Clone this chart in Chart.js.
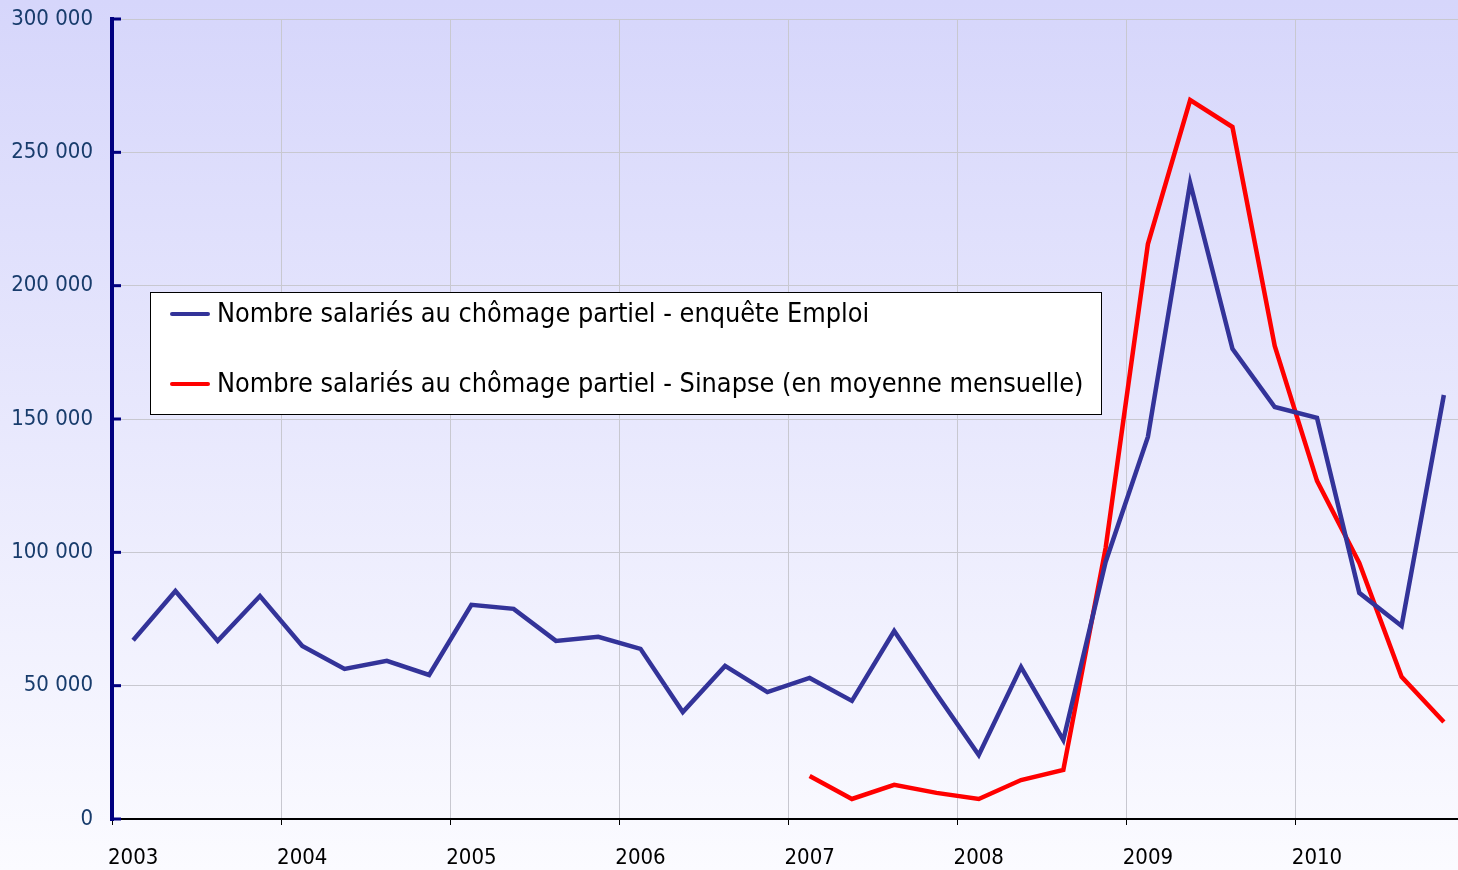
<!DOCTYPE html>
<html>
<head>
<meta charset="utf-8">
<script src="https://cdn.jsdelivr.net/npm/chart.js@4"></script>
<style>
  html, body { margin: 0; padding: 0; background: #fff; overflow: hidden; }
  #wrap { width: 1458px; height: 870px; overflow: hidden; }
  #inner { width: 1465px; height: 870px; }
</style>
</head>
<body>
<div id="wrap"><div id="inner"><canvas id="chomage"></canvas></div></div>
<script>
// quarters 2003 T1 .. 2010 T4
const years = ['2003', '2004', '2005', '2006', '2007', '2008', '2009', '2010']
const quarters = years.flatMap(y => [y, y + 'T2', y + 'T3', y + 'T4'])

const enqueteEmploi = [
  67000, 85500, 66800, 83600,
  64900, 56300, 59300, 54000,
  80300, 78800, 66800, 68300,
  63800, 40100, 57400, 47600,
  52900, 44300, 70500, 46900,
  24000, 57000, 29600, 96400,
  143300, 238500, 176300, 154500,
  150400, 84800, 72400, 159000
]

const sinapse = [
  null, null, null, null,
  null, null, null, null,
  null, null, null, null,
  null, null, null, null,
  16100, 7500, 12800, 9800,
  7500, 14600, 18400, 101600,
  215600, 269600, 259500, 177400,
  126800, 96000, 53300, 36400
]

const labelEmploi = 'Nombre salariés au chômage partiel - enquête Emploi'
const labelSinapse = 'Nombre salariés au chômage partiel - Sinapse (en moyenne mensuelle)'

const FONT = '"DejaVu Sans Condensed", "Liberation Sans Narrow", "Liberation Sans", sans-serif'

const background = {
  id: 'background',
  beforeDraw(chart) {
    const ctx = chart.ctx
    const g = ctx.createLinearGradient(0, 0, 0, chart.height)
    g.addColorStop(0, '#d6d6fb')
    g.addColorStop(1, '#fbfbff')
    ctx.save()
    ctx.fillStyle = g
    ctx.fillRect(0, 0, chart.width, chart.height)
    ctx.restore()
  }
}

// thick navy y axis with inward ticks
const yAxisLine = {
  id: 'yAxisLine',
  afterDatasetsDraw(chart) {
    const ctx = chart.ctx
    const y = chart.scales.y
    const x0 = chart.chartArea.left
    ctx.save()
    ctx.strokeStyle = '#000080'
    ctx.lineWidth = 4
    ctx.beginPath()
    ctx.moveTo(x0, y.top - 2)
    ctx.lineTo(x0, y.bottom + 2)
    ctx.stroke()
    ctx.lineWidth = 3
    y.ticks.forEach(t => {
      const py = y.getPixelForValue(t.value)
      ctx.beginPath()
      ctx.moveTo(x0, py)
      ctx.lineTo(x0 + 9, py)
      ctx.stroke()
    })
    ctx.restore()
  }
}

const boxLegend = {
  id: 'boxLegend',
  afterDraw(chart) {
    const ctx = chart.ctx
    ctx.save()
    ctx.fillStyle = '#ffffff'
    ctx.fillRect(150.5, 292.5, 951, 122)
    ctx.strokeStyle = '#000000'
    ctx.lineWidth = 1
    ctx.strokeRect(150.5, 292.5, 951, 122)
    const rows = [314, 384]
    chart.data.datasets.forEach((ds, i) => {
      ctx.strokeStyle = ds.borderColor
      ctx.lineWidth = 4
      ctx.lineCap = 'round'
      ctx.beginPath()
      ctx.moveTo(172, rows[i])
      ctx.lineTo(208, rows[i])
      ctx.stroke()
      ctx.fillStyle = '#000000'
      ctx.font = '26.8px ' + FONT
      ctx.textBaseline = 'middle'
      ctx.fillText(ds.label, 217, rows[i] + 1)
    })
    ctx.restore()
  }
}

new Chart(document.getElementById('chomage'), {
  type: 'line',
  data: {
    labels: quarters,
    datasets: [
      {
        label: labelEmploi,
        data: enqueteEmploi,
        borderColor: '#333399',
        borderWidth: 4.5,
        pointRadius: 0,
        tension: 0,
        fill: false
      },
      {
        label: labelSinapse,
        data: sinapse,
        borderColor: '#ff0000',
        borderWidth: 4.5,
        pointRadius: 0,
        tension: 0,
        fill: false,
        spanGaps: false
      }
    ]
  },
  options: {
    responsive: true,
    maintainAspectRatio: false,
    animation: false,
    layout: { padding: { top: 19, right: 0, left: 0, bottom: 0 } },
    plugins: {
      legend: { display: false },
      tooltip: { enabled: false }
    },
    scales: {
      x: {
        type: 'category',
        offset: true,
        grid: {
          offset: true,
          color: ctx => (ctx.index % 4 === 0 ? '#c8c8d0' : 'rgba(0,0,0,0)'),
          tickColor: ctx => (ctx.index % 4 === 0 ? '#000000' : 'rgba(0,0,0,0)'),
          tickLength: 6,
          lineWidth: 1
        },
        border: { color: '#000000', width: 2 },
        ticks: {
          autoSkip: false,
          maxRotation: 0,
          padding: 20,
          color: '#000000',
          font: { family: FONT, size: 22 },
          callback: (v, i) => (i % 4 === 0 ? quarters[i] : '')
        },
        afterFit: s => {
          s.height = 51
          s.paddingLeft = 0
          s.paddingRight = 0
        }
      },
      y: {
        min: 0,
        max: 300000,
        ticks: {
          stepSize: 50000,
          color: '#183c6c',
          padding: 19,
          font: { family: FONT, size: 22 },
          callback: v => (v === 0 ? '0' : (v / 1000) + ' 000')
        },
        grid: {
          color: '#c8c8d0',
          drawTicks: false
        },
        border: { display: false },
        afterFit: s => {
          s.width = 112
          s.paddingTop = 0
          s.paddingBottom = 0
        }
      }
    }
  },
  plugins: [background, yAxisLine, boxLegend]
})
</script>
</body>
</html>
